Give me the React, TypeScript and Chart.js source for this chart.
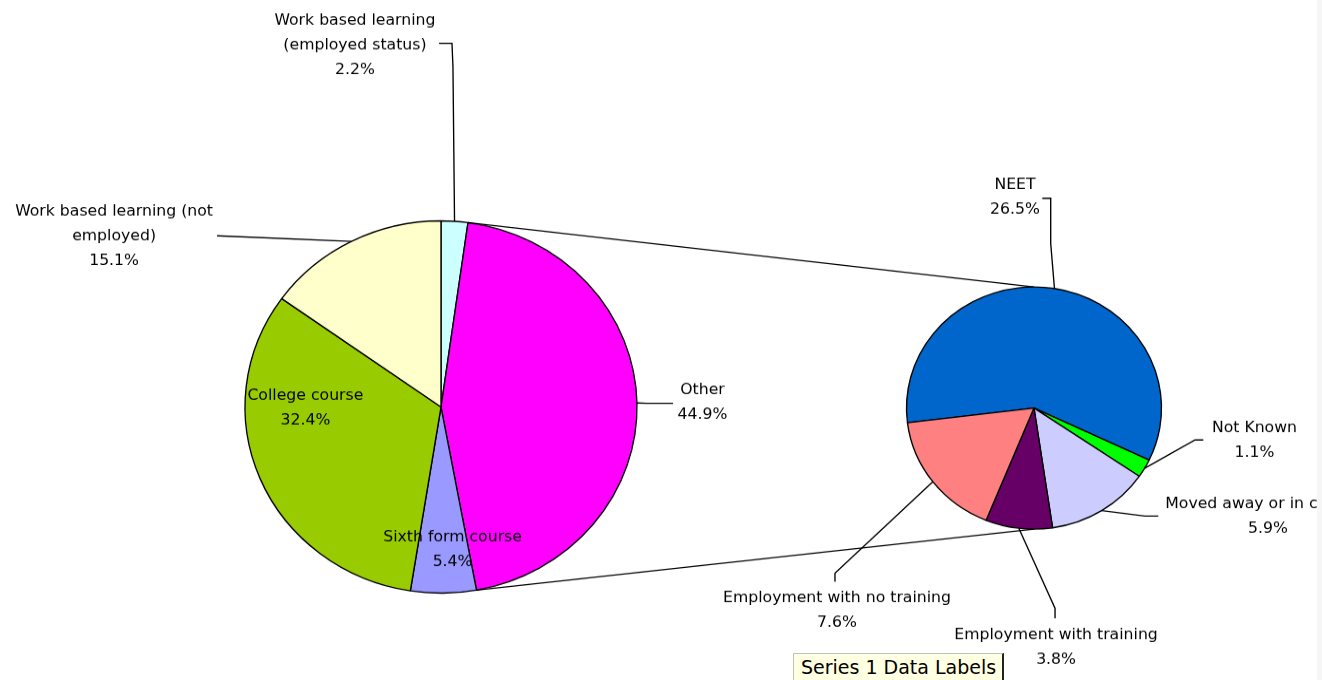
import React, { useEffect, useRef } from 'react';
import { Chart, registerables } from 'chart.js';

Chart.register(...registerables);

// ---- Data ----
const primaryLabels = [
  'Work based learning (employed status)',
  'Other',
  'Sixth form course',
  'College course',
  'Work based learning (not employed)',
];
const primaryValues = [2.2, 44.9, 5.4, 32.4, 15.1];
const primaryColors = ['#CCFFFF', '#FF00FF', '#9999FF', '#99CC00', '#FFFFCC'];

const secondaryLabels = [
  'NEET',
  'Not Known',
  'Moved away or in custody',
  'Employment with training',
  'Employment with no training',
];
const secondaryValues = [26.5, 1.1, 5.9, 3.8, 7.6];
const secondaryColors = ['#0066CC', '#00FF00', '#CCCCFF', '#660066', '#FF8080'];

const groupedLabel = 'Other';

// ---- Layout ----
const W = 1322;
const H = 680;
const CANVAS_H = 716;
const SQUASH = H / CANVAS_H;
const FONT = '15.7px "DejaVu Sans"';
const LINE_H = 26;
const WRAP_W = 240;
const CLIP_X = 1317;
const STROKE = 1.35;

const leftCenter = { x: 441, y: 407 / SQUASH, r: 196 };
const rightCenter = { x: 1034, y: 408 / SQUASH, r: 127.5 };

// label placement in units of the pie radius, relative to the pie centre
type Place = { dx: number; dy: number; path?: number[][] };
const leftPlaces: Place[] = [
  { dx: -0.439, dy: -1.941, path: [[0.061, -1.829], [0.056, -1.954], [-0.01, -1.954]] },
  { dx: 1.334, dy: -0.024, path: [[1.049, -0.02], [1.184, -0.02]] },
  { dx: 0.059, dy: 0.769 },
  { dx: -0.692, dy: 0.007 },
  { dx: -1.668, dy: -0.915, path: [[-1.143, -0.92]] },
];
const rightPlaces: Place[] = [
  { dx: -0.149, dy: -1.738, path: [[0.131, -1.36], [0.131, -1.732], [0.065, -1.732]] },
  { dx: 1.729, dy: 0.271, path: [[1.263, 0.264], [1.328, 0.264]] },
  { dx: 1.835, dy: 0.894, path: [[0.871, 0.892], [0.975, 0.892]] },
  { dx: 0.173, dy: 1.982, path: [[0.165, 1.654], [0.165, 1.736]] },
  { dx: -1.545, dy: 1.672, path: [[-1.561, 1.365], [-1.561, 1.435]] },
];

function wrapText(ctx: CanvasRenderingContext2D, text: string, maxW: number): string[] {
  const words = text.split(' ');
  const lines: string[] = [];
  let cur = '';
  for (const w of words) {
    const test = cur ? cur + ' ' + w : w;
    if (cur && ctx.measureText(test).width > maxW) {
      lines.push(cur);
      cur = w;
    } else {
      cur = test;
    }
  }
  if (cur) lines.push(cur);
  return lines;
}

function makeLabelPlugin(places: Place[]) {
  return {
    id: 'pieOfPieLabels',
    afterDraw(chart: any) {
      const ctx: CanvasRenderingContext2D = chart.ctx;
      const meta = chart.getDatasetMeta(0);
      const labels: string[] = chart.data.labels;
      const values: number[] = chart.data.datasets[0].data;
      ctx.save();
      ctx.beginPath();
      ctx.rect(0, 0, CLIP_X, chart.height);
      ctx.clip();
      ctx.font = FONT;
      ctx.fillStyle = '#000';
      ctx.strokeStyle = '#000';
      ctx.lineWidth = STROKE;
      ctx.textAlign = 'center';
      ctx.textBaseline = 'middle';
      meta.data.forEach((arc: any, i: number) => {
        const p = arc.getProps(['x', 'y', 'startAngle', 'endAngle', 'outerRadius'], true);
        const mid = (p.startAngle + p.endAngle) / 2;
        const r = p.outerRadius;
        const place = places[i];
        if (place.path) {
          ctx.beginPath();
          ctx.moveTo(p.x + r * Math.cos(mid), p.y + r * Math.sin(mid));
          place.path.forEach(([px, py]) => ctx.lineTo(p.x + px * r, p.y + py * r));
          ctx.stroke();
        }
        const lines = wrapText(ctx, labels[i], WRAP_W).concat([values[i].toFixed(1) + '%']);
        const cx = p.x + place.dx * r;
        const cy = p.y + place.dy * r;
        lines.forEach((t, k) => {
          ctx.fillText(t, cx, cy + (k - (lines.length - 1) / 2) * LINE_H);
        });
      });
      ctx.restore();
    },
  };
}

function makeConnectorPlugin(getPrimary: () => any) {
  return {
    id: 'seriesLines',
    beforeDatasetsDraw(chart: any) {
      const primary = getPrimary();
      if (!primary) return;
      const idx = primary.data.labels.indexOf(groupedLabel);
      const src = primary.getDatasetMeta(0).data[idx];
      const dst = chart.getDatasetMeta(0).data[0];
      if (!src || !dst) return;
      const s = src.getProps(['x', 'y', 'startAngle', 'endAngle', 'outerRadius'], true);
      const d = dst.getProps(['x', 'y', 'outerRadius'], true);
      const ctx: CanvasRenderingContext2D = chart.ctx;
      ctx.save();
      ctx.strokeStyle = '#000';
      ctx.lineWidth = STROKE;
      ctx.beginPath();
      ctx.moveTo(s.x + s.outerRadius * Math.cos(s.startAngle), s.y + s.outerRadius * Math.sin(s.startAngle));
      ctx.lineTo(d.x, d.y - d.outerRadius);
      ctx.moveTo(s.x + s.outerRadius * Math.cos(s.endAngle), s.y + s.outerRadius * Math.sin(s.endAngle));
      ctx.lineTo(d.x, d.y + d.outerRadius);
      ctx.stroke();
      ctx.restore();
    },
  };
}

export default function App() {
  const leftRef = useRef<HTMLCanvasElement>(null);
  const rightRef = useRef<HTMLCanvasElement>(null);

  useEffect(() => {
    if (!leftRef.current || !rightRef.current) return;
    const common = {
      responsive: false,
      animation: false as const,
      events: [] as any[],
      plugins: { legend: { display: false }, tooltip: { enabled: false } },
    };
    const left = new Chart(leftRef.current, {
      type: 'pie',
      data: {
        labels: primaryLabels,
        datasets: [
          {
            data: primaryValues,
            backgroundColor: primaryColors,
            borderColor: '#000',
            borderWidth: STROKE,
          },
        ],
      },
      options: {
        ...common,
        rotation: 0,
        radius: leftCenter.r,
        layout: {
          padding: {
            left: 0,
            right: W - 2 * leftCenter.x,
            top: 2 * leftCenter.y - CANVAS_H,
            bottom: 0,
          },
        },
      } as any,
      plugins: [makeLabelPlugin(leftPlaces)],
    });
    const right = new Chart(rightRef.current, {
      type: 'pie',
      data: {
        labels: secondaryLabels,
        datasets: [
          {
            data: secondaryValues,
            backgroundColor: secondaryColors,
            borderColor: '#000',
            borderWidth: STROKE,
          },
        ],
      },
      options: {
        ...common,
        rotation: 263,
        radius: rightCenter.r,
        layout: {
          padding: {
            left: 2 * rightCenter.x - W,
            right: 0,
            top: 2 * rightCenter.y - CANVAS_H,
            bottom: 0,
          },
        },
      } as any,
      plugins: [makeConnectorPlugin(() => left), makeLabelPlugin(rightPlaces)],
    });
    return () => {
      right.destroy();
      left.destroy();
    };
  }, []);

  const canvasStyle: React.CSSProperties = {
    position: 'absolute',
    left: 0,
    top: 0,
    width: W + 'px',
    height: H + 'px',
  };

  return (
    <div
      style={{
        position: 'fixed',
        left: 0,
        top: 0,
        width: W,
        height: H,
        overflow: 'hidden',
        background: '#ffffff',
      }}
    >
      <canvas ref={leftRef} width={W} height={CANVAS_H} style={canvasStyle} />
      <canvas ref={rightRef} width={W} height={CANVAS_H} style={canvasStyle} />
      <div
        style={{
          position: 'absolute',
          left: CLIP_X,
          top: 0,
          width: W - CLIP_X,
          height: H,
          background: '#f6f6f6',
        }}
      />
      <div
        style={{
          position: 'absolute',
          left: 793,
          top: 653,
          width: 211,
          height: 40,
          boxSizing: 'border-box',
          background: '#FFFFE1',
          borderTop: '1px solid #c0c0c0',
          borderLeft: '1px solid #c0c0c0',
          borderRight: '2px solid #222',
          font: '19px "DejaVu Sans"',
          lineHeight: '26px',
          paddingLeft: 7,
          color: '#000',
          whiteSpace: 'nowrap',
        }}
      >
        Series 1 Data Labels
      </div>
    </div>
  );
}
